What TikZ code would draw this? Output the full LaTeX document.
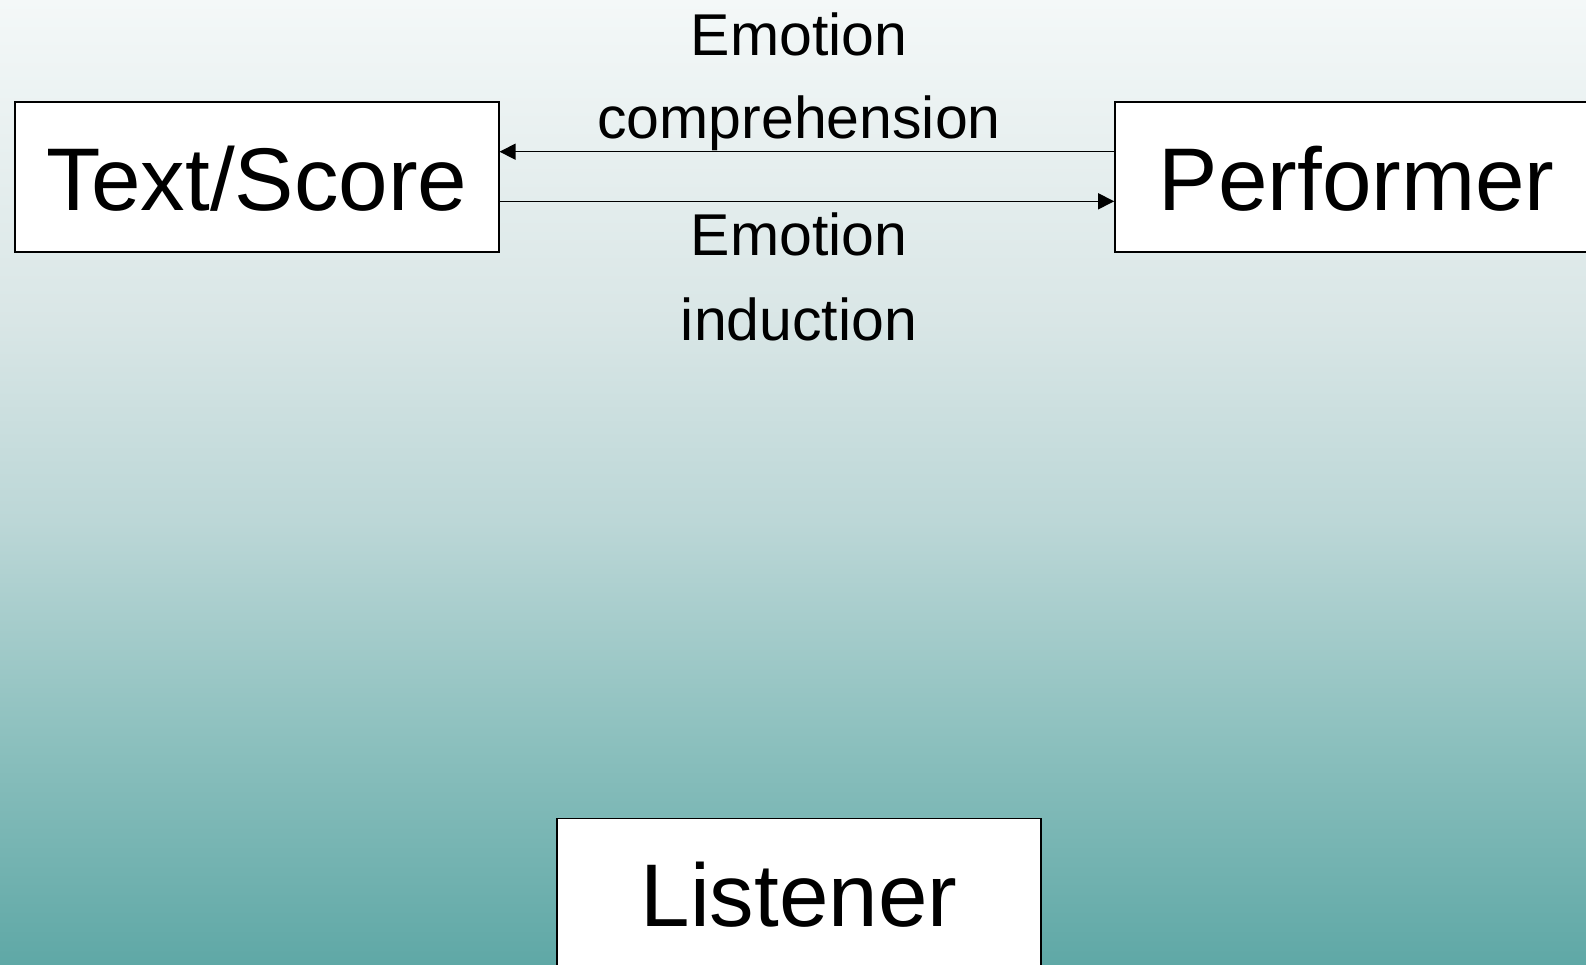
\documentclass[tikz,border=0pt]{standalone}
\usepackage{fontspec}
\setmainfont{Liberation Sans}
\usetikzlibrary{arrows.meta}
\definecolor{bgA}{HTML}{5FA8A6}
\definecolor{bgB}{HTML}{8CC0BE}
\definecolor{bgC}{HTML}{BCD7D7}
\definecolor{bgD}{HTML}{D9E6E6}
\definecolor{bgE}{HTML}{F4F8F8}
\pgfdeclareverticalshading{bgshade}{100bp}{color(0bp)=(bgA); color(25bp)=(bgA); color(36.6bp)=(bgB); color(48bp)=(bgC); color(58.4bp)=(bgD); color(75bp)=(bgE); color(100bp)=(bgE)}
\begin{document}
\begin{tikzpicture}[x=1pt,y=-1pt,
  box/.style={draw=black, line width=1.6pt, fill=white, minimum width=483.5pt, minimum height=150pt, inner sep=0pt, text height=67pt, text depth=0pt, font=\fontsize{89}{89}\selectfont},
  lab/.style={font=\fontsize{59}{59}\selectfont, anchor=base, inner sep=0pt},
  conn/.style={line width=1.5pt, -{Triangle[length=16pt,width=16pt]}}]
\useasboundingbox (0,0) rectangle (1586,964);
\clip (0,0) rectangle (1586,964);
\fill[shading=bgshade] (0,0) rectangle (1586,964);
\node[box] (ts) at (257,177) {Text/Score};
\node[box] (pf) at (1356.7,177) {Performer};
\node[box] (ls) at (799,893.3) {Listener};
\node[lab] (e1) at (799,55.6) {Emotion};
\node[lab] (c1) at (799,138.6) {comprehension};
\node[lab] (e2) at (799,255) {Emotion};
\node[lab] (i2) at (799,340) {induction};
\draw[conn] ([yshift=25.3pt]pf.west) -- ([yshift=25.3pt]ts.east);
\draw[conn] ([yshift=-24.3pt]ts.east) -- ([yshift=-24.3pt]pf.west);
\end{tikzpicture}
\end{document}
